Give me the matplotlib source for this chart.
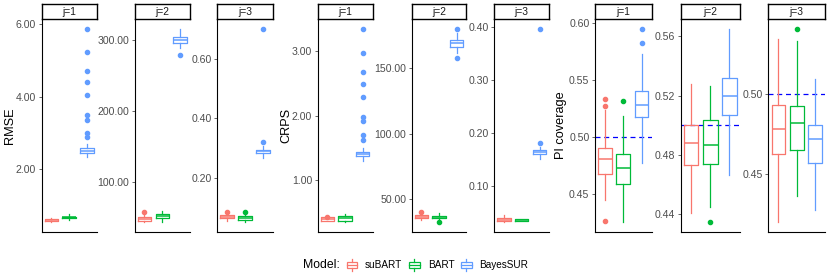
import numpy as np
import matplotlib
matplotlib.use("Agg")
import matplotlib.pyplot as plt
from matplotlib.patches import Rectangle

plt.rcParams['font.family'] = ['Liberation Sans', 'DejaVu Sans']

models = ['suBART', 'BART', 'BayesSUR']
colors = ['#F8766D', '#00BA38', '#619CFF']
metrics = ['RMSE', 'CRPS', 'PI coverage']
strips = ['j=1', 'j=2', 'j=3']

# box stats, per j, per model: [suBART, BART, BayesSUR]
rmse_med = [[0.61, 0.69, 2.51], [47.8, 52.0, 300.0], [0.0717, 0.067, 0.290]]
rmse_q1 = [[0.59, 0.67, 2.45], [45.0, 49.5, 295.3], [0.0666, 0.0617, 0.284]]
rmse_q3 = [[0.64, 0.71, 2.58], [50.7, 54.6, 303.8], [0.0767, 0.0728, 0.295]]
rmse_lo = [[0.56, 0.62, 2.33], [43.5, 44.0, 289.0], [0.056, 0.0533, 0.269]]
rmse_hi = [[0.66, 0.77, 2.70], [53.5, 59.7, 315.6], [0.0819, 0.081, 0.307]]
rmse_out = [[[], [], [2.88, 3.01, 3.35, 3.48, 4.05, 4.40, 4.69, 5.22, 5.86]],
            [[57.3], [], [279.0]],
            [[0.088], [0.087], [0.322, 0.70]]]

crps_med = [[0.397, 0.41, 1.41], [36.6, 36.3, 169.0], [0.0377, 0.037, 0.165]]
crps_q1 = [[0.371, 0.371, 1.38], [35.3, 35.3, 166.0], [0.0347, 0.0353, 0.161]]
crps_q3 = [[0.423, 0.443, 1.44], [38.1, 37.3, 171.0], [0.0404, 0.0385, 0.169]]
crps_lo = [[0.36, 0.35, 1.30], [34.3, 33.7, 161.7], [0.033, 0.0345, 0.152]]
crps_hi = [[0.45, 0.48, 1.50], [38.9, 39.5, 176.8], [0.0462, 0.039, 0.173]]
crps_out = [[[0.43], [], [1.63, 1.70, 1.91, 1.98, 2.29, 2.49, 2.67, 2.97, 3.35]],
            [[40.3], [32.6], [157.7, 180.0]],
            [[], [], [0.182, 0.396]]]

pic_med = [[0.4806, 0.4727, 0.5279], [0.4879, 0.4868, 0.5198], [0.478, 0.4818, 0.4722]]
pic_q1 = [[0.4674, 0.4586, 0.5173], [0.4734, 0.4738, 0.5071], [0.4629, 0.4653, 0.4570]]
pic_q3 = [[0.4900, 0.4847, 0.5397], [0.4999, 0.5033, 0.5318], [0.4933, 0.4927, 0.4808]]
pic_lo = [[0.4447, 0.4252, 0.4768], [0.4405, 0.4449, 0.4667], [0.4203, 0.4365, 0.4276]]
pic_hi = [[0.5232, 0.5185, 0.5723], [0.5276, 0.5265, 0.5652], [0.5344, 0.5329, 0.5090]]
pic_out = [[[0.4258, 0.5267, 0.5329], [0.5311], [0.582, 0.5946]],
           [[], [0.4347], []],
           [[], [0.5406], []]]

ticks = [
    [[2, 4, 6], [100, 200, 300], [0.2, 0.4, 0.6]],
    [[1, 2, 3], [50, 100, 150], [0.1, 0.2, 0.3, 0.4]],
    [[0.45, 0.50, 0.55, 0.60], [0.44, 0.48, 0.52, 0.56], [0.45, 0.50]],
]
pi_target = 0.5

all_stats = [
    (rmse_med, rmse_q1, rmse_q3, rmse_lo, rmse_hi, rmse_out),
    (crps_med, crps_q1, crps_q3, crps_lo, crps_hi, crps_out),
    (pic_med, pic_q1, pic_q3, pic_lo, pic_hi, pic_out),
]

W, H = 830, 277
fig = plt.figure(figsize=(W / 100, H / 100), dpi=100)

# panel edges in pixels
panel_x = [
    [(41.5, 96.7), (134.7, 189.7), (217.3, 272.7)],
    [(317.7, 372.5), (411.7, 466.3), (494.3, 549.3)],
    [(595.0, 651.7), (680.7, 740.0), (768.3, 825.0)],
]
strip_top, panel_top, panel_bot = 4, 19, 231.7
ylab_x = [10.5, 286, 561]

tick_col = '#4D4D4D'
for g in range(3):
    med, q1, q3, lo, hi, out = all_stats[g]
    for j in range(3):
        x0, x1 = panel_x[g][j]
        ax = fig.add_axes([x0 / W, 1 - panel_bot / H, (x1 - x0) / W, (panel_bot - panel_top) / H])
        vals = []
        for m in range(3):
            st = dict(med=med[j][m], q1=q1[j][m], q3=q3[j][m],
                      whislo=lo[j][m], whishi=hi[j][m], fliers=out[j][m])
            vals += [lo[j][m], hi[j][m]] + list(out[j][m])
            c = colors[m]
            ax.bxp([st], positions=[m + 1], widths=0.75, showcaps=False,
                   boxprops=dict(color=c, lw=0.9),
                   medianprops=dict(color=c, lw=1.1),
                   whiskerprops=dict(color=c, lw=0.9),
                   flierprops=dict(marker='o', markerfacecolor=c, markeredgecolor=c,
                                   markersize=3.0, linestyle='none'))
        if g == 2:
            ax.axhline(pi_target, color='#0000FF', lw=0.9, ls=(0, (4, 3)), zorder=0)
        vmin, vmax = min(vals), max(vals)
        pad = 0.05 * (vmax - vmin)
        ax.set_ylim(vmin - pad, vmax + pad)
        ax.set_xlim(0.45, 3.55)
        ax.set_yticks(ticks[g][j])
        ax.set_yticklabels([f'{t:.2f}' for t in ticks[g][j]])
        ax.set_xticks([])
        ax.tick_params(axis='y', labelsize=7.6, colors=tick_col, length=2.5, width=0.6, pad=1.5)
        for lab in ax.get_yticklabels():
            lab.set_color(tick_col)
        for s in ['top', 'right']:
            ax.spines[s].set_visible(False)
        for s in ['left', 'bottom']:
            ax.spines[s].set_color('black')
            ax.spines[s].set_linewidth(0.8)
        ax.set_facecolor('white')

        # strip
        sax = fig.add_axes([x0 / W, 1 - panel_top / H, (x1 - x0) / W, (panel_top - strip_top) / H])
        sax.set_xticks([])
        sax.set_yticks([])
        for s in sax.spines.values():
            s.set_color('black')
            s.set_linewidth(1.0)
        sax.text(0.5, 0.45, strips[j], ha='center', va='center', fontsize=7.4,
                 color='#1A1A1A', transform=sax.transAxes)

    fig.text(ylab_x[g] / W, 1 - (panel_top + panel_bot) / 2 / H, metrics[g],
             rotation=90, ha='center', va='center', fontsize=9.2)

# legend
lax = fig.add_axes([0, 0, 1, 1])
lax.set_xlim(0, W)
lax.set_ylim(H, 0)
lax.axis('off')
ly = 264.5
lax.text(302.5, ly, 'Model:', ha='left', va='center', fontsize=8.8)
key_x = [346.7, 409.0, 461.0]
lab_x = [365.0, 427.7, 479.3]
for m in range(3):
    c = colors[m]
    lax.add_patch(Rectangle((key_x[m], ly - 3), 10.6, 6, fill=False, ec=c, lw=0.9))
    lax.plot([key_x[m], key_x[m] + 10.6], [ly, ly], color=c, lw=0.9)
    lax.plot([key_x[m] + 5.3] * 2, [ly - 6, ly - 3], color=c, lw=0.9)
    lax.plot([key_x[m] + 5.3] * 2, [ly + 3, ly + 6], color=c, lw=0.9)
    lax.text(lab_x[m], ly, models[m], ha='left', va='center', fontsize=7.2)

fig.savefig('out.png', dpi=100)
